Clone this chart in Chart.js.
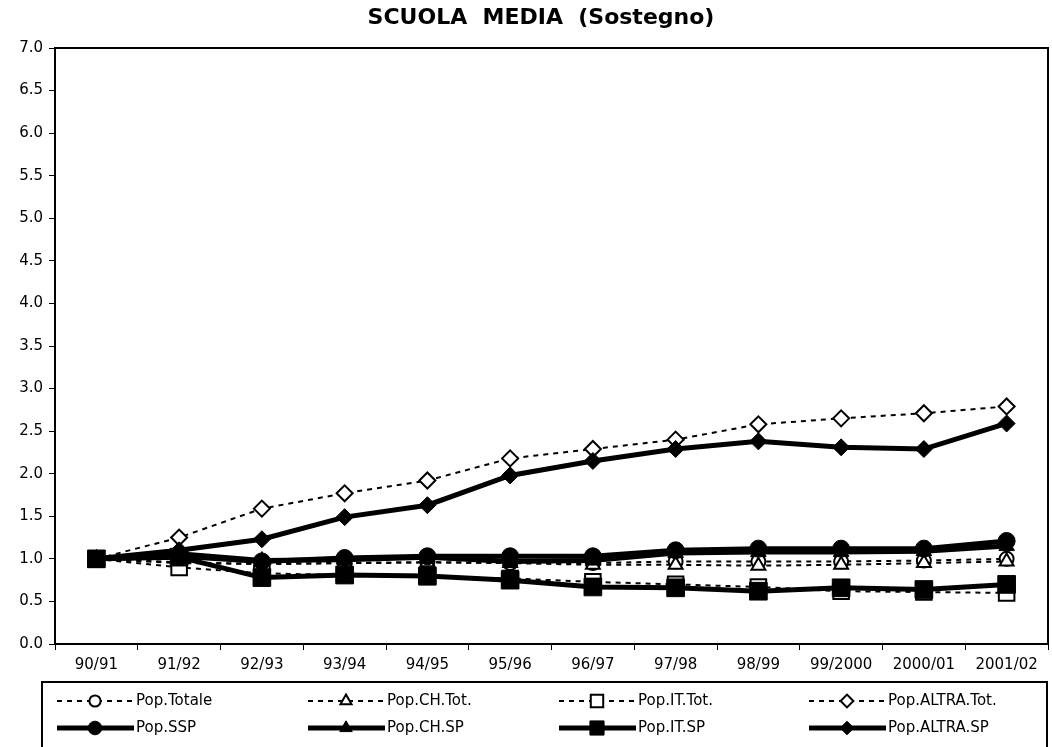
<!DOCTYPE html>
<html>
<head>
<meta charset="utf-8">
<script src="https://cdn.jsdelivr.net/npm/chart.js@4.4.1/dist/chart.umd.min.js"></script>
<style>
  html, body { margin: 0; padding: 0; background: #fff; }
</style>
</head>
<body>
<canvas id="chart" width="1052" height="747"></canvas>
<script>
'use strict';
// data (index 1990/91 = 1.0)
const years = ['90/91', '91/92', '92/93', '93/94', '94/95', '95/96', '96/97', '97/98', '98/99', '99/2000', '2000/01', '2001/02'];
const popTotale = [1.0, 0.96, 0.94, 0.95, 0.96, 0.95, 0.95, 0.97, 0.97, 0.97, 0.98, 1.0];
const popChTot = [1.0, 0.95, 0.94, 0.95, 0.96, 0.95, 0.93, 0.93, 0.92, 0.93, 0.95, 0.97];
const popItTot = [1.0, 0.90, 0.83, 0.81, 0.79, 0.77, 0.73, 0.70, 0.67, 0.62, 0.61, 0.60];
const popAltraTot = [1.0, 1.25, 1.59, 1.77, 1.92, 2.18, 2.29, 2.40, 2.58, 2.65, 2.71, 2.79];
const popSsp = [1.0, 1.03, 0.97, 1.01, 1.03, 1.03, 1.03, 1.10, 1.12, 1.12, 1.12, 1.21];
const popChSp = [1.0, 1.06, 0.98, 0.99, 1.02, 0.97, 0.98, 1.07, 1.08, 1.08, 1.09, 1.15];
const popItSp = [1.0, 1.02, 0.78, 0.81, 0.80, 0.75, 0.67, 0.66, 0.62, 0.66, 0.64, 0.70];
const popAltraSp = [1.0, 1.10, 1.23, 1.49, 1.63, 1.98, 2.15, 2.29, 2.38, 2.31, 2.29, 2.59];
const yTicks = [0, 0.5, 1, 1.5, 2, 2.5, 3, 3.5, 4, 4.5, 5, 5.5, 6, 6.5, 7];
const chartTitle = 'SCUOLA  MEDIA  (Sostegno)';

Chart.defaults.font.family = "'DejaVu Sans', sans-serif";
Chart.defaults.font.size = 15;
Chart.defaults.color = '#000';

function dashed(label, data, style, radius) {
  return {
    label: label, data: data,
    borderColor: '#000', borderWidth: 2, borderDash: [5, 5],
    pointStyle: style, pointRadius: radius, pointHoverRadius: radius,
    pointBackgroundColor: '#fff', pointBorderColor: '#000', pointBorderWidth: 2,
    tension: 0
  };
}
function solid(label, data, style, radius) {
  return {
    label: label, data: data,
    borderColor: '#000', borderWidth: 5,
    pointStyle: style, pointRadius: radius, pointHoverRadius: radius,
    pointBackgroundColor: '#000', pointBorderColor: '#000', pointBorderWidth: 1,
    tension: 0
  };
}

const datasets = [
  dashed('Pop.Totale', popTotale, 'circle', 7),
  dashed('Pop.CH.Tot.', popChTot, 'triangle', 8),
  dashed('Pop.IT.Tot.', popItTot, 'rect', 11),
  dashed('Pop.ALTRA.Tot.', popAltraTot, 'rectRot', 8),
  solid('Pop.SSP', popSsp, 'circle', 8.5),
  solid('Pop.CH.SP', popChSp, 'triangle', 9),
  solid('Pop.IT.SP', popItSp, 'rect', 12.5),
  solid('Pop.ALTRA.SP', popAltraSp, 'rectRot', 8.5)
];
// later series on top, like the original
datasets.forEach((d, i) => { d.order = datasets.length - i; });

// frame round the plot area + title
const frame = {
  id: 'frame',
  beforeDatasetsDraw(chart) {
    const a = chart.chartArea, ctx = chart.ctx;
    ctx.save();
    ctx.strokeStyle = '#000';
    ctx.lineWidth = 2;
    ctx.strokeRect(a.left, a.top, a.right - a.left, a.bottom - a.top);
    ctx.fillStyle = '#000';
    ctx.font = "bold 22px 'DejaVu Sans', sans-serif";
    ctx.textAlign = 'center';
    ctx.textBaseline = 'middle';
    ctx.fillText(chartTitle, 541, 18);
    ctx.restore();
  }
};

// boxed legend, 4 columns x 2 rows, line sample with marker
const legendCols = [57, 308, 559, 809];
const legendRows = [701, 728];
const boxLegend = {
  id: 'boxLegend',
  afterDraw(chart) {
    const ctx = chart.ctx;
    ctx.save();
    ctx.strokeStyle = '#000';
    ctx.lineWidth = 2;
    ctx.strokeRect(42, 682, 1005, 80);
    chart.data.datasets.forEach((ds, i) => {
      const x0 = legendCols[i % 4];
      const y = legendRows[Math.floor(i / 4)];
      ctx.beginPath();
      ctx.setLineDash(ds.borderDash || []);
      ctx.lineWidth = ds.borderWidth;
      ctx.strokeStyle = '#000';
      ctx.moveTo(x0, y);
      ctx.lineTo(x0 + 77, y);
      ctx.stroke();
      ctx.setLineDash([]);
      ctx.fillStyle = ds.pointBackgroundColor;
      ctx.strokeStyle = ds.pointBorderColor;
      ctx.lineWidth = ds.pointBorderWidth;
      Chart.helpers.drawPoint(ctx, {
        pointStyle: ds.pointStyle, radius: ds.pointRadius * 0.8,
        borderWidth: ds.pointBorderWidth, rotation: 0
      }, x0 + 38, y);
      ctx.fillStyle = '#000';
      ctx.font = "15px 'DejaVu Sans', sans-serif";
      ctx.textBaseline = 'middle';
      ctx.textAlign = 'left';
      ctx.fillText(ds.label, x0 + 79, y);
    });
    ctx.restore();
  }
};

new Chart(document.getElementById('chart'), {
  type: 'line',
  data: { labels: years, datasets: datasets },
  options: {
    responsive: false,
    animation: false,
    devicePixelRatio: 1,
    layout: { autoPadding: false, padding: { left: 0, right: 4, top: 48, bottom: 73 } },
    plugins: {
      legend: { display: false },
      tooltip: { enabled: false },
      title: { display: false }
    },
    scales: {
      x: {
        offset: true,
        afterFit(scale) { scale.height = 30; scale.paddingLeft = 0; scale.paddingRight = 0; },
        grid: { offset: true, drawOnChartArea: false, drawTicks: true, tickLength: 6, color: '#000' },
        border: { display: false },
        ticks: { autoSkip: false, maxRotation: 0, padding: 6 }
      },
      y: {
        min: 0, max: 7,
        afterFit(scale) { scale.width = 55; },
        afterBuildTicks(scale) { scale.ticks = yTicks.map(v => ({ value: v })); },
        grid: { drawOnChartArea: false, drawTicks: true, tickLength: 6, color: '#000' },
        border: { display: false },
        ticks: { padding: 6, callback: v => v.toFixed(1) }
      }
    }
  },
  plugins: [frame, boxLegend]
});
</script>
</body>
</html>
